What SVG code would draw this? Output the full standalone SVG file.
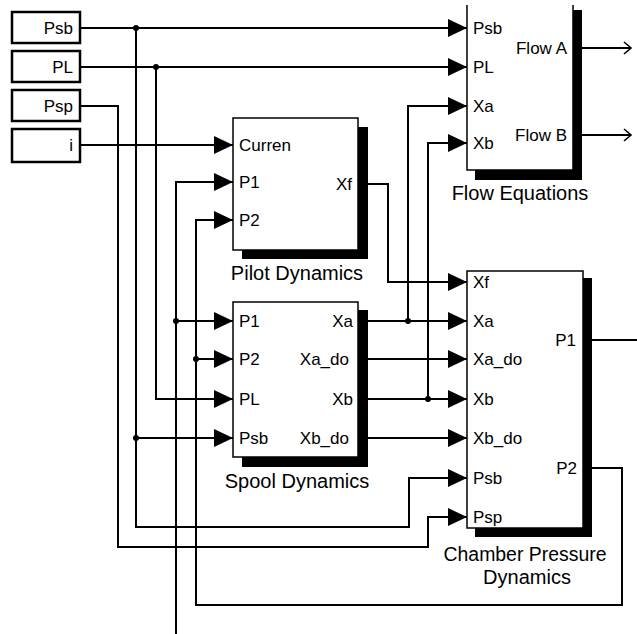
<svg xmlns="http://www.w3.org/2000/svg" width="637" height="634" viewBox="0 0 637 634">
<defs>
<style>
.box{fill:#fff;stroke:#000;stroke-width:2.5}
.blk{fill:#fff;stroke:#000;stroke-width:1.5}
.shadow{fill:#000}
.w{fill:none;stroke:#000;stroke-width:2}
.in{marker-end:url(#tri)}
.out{marker-end:url(#open)}
.dot{fill:#000}
text{font-family:"Liberation Sans",Arial,Helvetica,sans-serif;fill:#000}
.port{font-size:17px}
.lbl{font-size:20px;text-anchor:middle}
.r{text-anchor:end}
</style>
<marker id="tri" markerUnits="userSpaceOnUse" markerWidth="19" markerHeight="18" refX="19" refY="9" orient="auto">
<path d="M0,0 L19,9 L0,18 z" fill="#000"/>
</marker>
<marker id="open" markerUnits="userSpaceOnUse" markerWidth="10" markerHeight="14" refX="8" refY="7" orient="auto">
<path d="M1,1 L8,7 L1,13" fill="none" stroke="#000" stroke-width="1.6"/>
</marker>
</defs>
<rect width="637" height="634" fill="#fff"/>

<g id="connectors">
<path class="w in" d="M80,28 H467"/>
<path class="w in" d="M136,28 V527 H409 V478 H467"/>
<path class="w in" d="M136,438 H233"/>
<path class="w in" d="M80,67 H467"/>
<path class="w in" d="M156,67 V399 H233"/>
<path class="w in" d="M80,106 H118 V547 H428 V517 H467"/>
<path class="w in" d="M80,145 H233"/>
<path class="w" d="M592,340 H637"/>
<path class="w in" d="M176,634 V182 H233"/>
<path class="w in" d="M176,321 H233"/>
<path class="w in" d="M592,468 H622 V605 H196 V220 H233"/>
<path class="w in" d="M196,359 H233"/>
<path class="w in" d="M368,184 H388 V282 H467"/>
<path class="w in" d="M368,321 H467"/>
<path class="w in" d="M408,321 V106 H467"/>
<path class="w in" d="M368,359 H467"/>
<path class="w in" d="M368,399 H467"/>
<path class="w in" d="M428,399 V143 H467"/>
<path class="w in" d="M368,438 H467"/>
<path class="w out" d="M582,48 H631"/>
<path class="w out" d="M582,135 H631"/>
<circle class="dot" cx="136" cy="28" r="3"/>
<circle class="dot" cx="156" cy="67" r="3"/>
<circle class="dot" cx="136" cy="438" r="3"/>
<circle class="dot" cx="176" cy="321" r="3"/>
<circle class="dot" cx="196" cy="359" r="3"/>
<circle class="dot" cx="408" cy="321" r="3"/>
<circle class="dot" cx="428" cy="399" r="3"/>
</g>

<g id="in-Psb">
<rect class="box" x="12" y="12" width="68" height="31"/>
<text class="port r" x="73" y="34">Psb</text>
</g>
<g id="in-PL">
<rect class="box" x="12" y="51" width="68" height="31"/>
<text class="port r" x="73" y="73">PL</text>
</g>
<g id="in-Psp">
<rect class="box" x="12" y="90" width="68" height="31"/>
<text class="port r" x="73" y="112">Psp</text>
</g>
<g id="in-i">
<rect class="box" x="12" y="129" width="68" height="33"/>
<text class="port r" x="73" y="151">i</text>
</g>

<g id="flow-equations">
<rect class="shadow" x="475" y="10" width="107" height="170"/>
<rect x="467" y="5" width="106" height="165" fill="#fff"/>
<path class="blk" fill="none" d="M467,5 V170 H573 V5"/>
<text class="port" x="473" y="34">Psb</text>
<text class="port" x="473" y="73">PL</text>
<text class="port" x="473" y="112">Xa</text>
<text class="port" x="473" y="149">Xb</text>
<text class="port r" x="567" y="54">Flow A</text>
<text class="port r" x="567" y="141">Flow B</text>
<text class="lbl" x="520" y="200">Flow Equations</text>
</g>

<g id="pilot-dynamics">
<rect class="shadow" x="242" y="127" width="126" height="132"/>
<rect class="blk" x="233" y="118" width="125" height="132"/>
<text class="port" x="239" y="151">Curren</text>
<text class="port" x="239" y="188">P1</text>
<text class="port" x="239" y="226">P2</text>
<text class="port r" x="352" y="190">Xf</text>
<text class="lbl" x="297" y="280">Pilot Dynamics</text>
</g>

<g id="spool-dynamics">
<rect class="shadow" x="242" y="310" width="126" height="157"/>
<rect class="blk" x="233" y="302" width="125" height="155"/>
<text class="port" x="239" y="327">P1</text>
<text class="port" x="239" y="365">P2</text>
<text class="port" x="239" y="405">PL</text>
<text class="port" x="239" y="444">Psb</text>
<text class="port r" x="353" y="327">Xa</text>
<text class="port r" x="349" y="365">Xa_do</text>
<text class="port r" x="353" y="405">Xb</text>
<text class="port r" x="349" y="444">Xb_do</text>
<text class="lbl" x="297" y="488">Spool Dynamics</text>
</g>

<g id="chamber-pressure-dynamics">
<rect class="shadow" x="475" y="278" width="117" height="259"/>
<rect class="blk" x="467" y="271" width="116" height="257"/>
<text class="port" x="473" y="288">Xf</text>
<text class="port" x="473" y="327">Xa</text>
<text class="port" x="473" y="365">Xa_do</text>
<text class="port" x="473" y="405">Xb</text>
<text class="port" x="473" y="444">Xb_do</text>
<text class="port" x="473" y="484">Psb</text>
<text class="port" x="473" y="523">Psp</text>
<text class="port r" x="576" y="346">P1</text>
<text class="port r" x="577" y="474">P2</text>
<text class="lbl" x="525" y="561" textLength="163" lengthAdjust="spacingAndGlyphs">Chamber Pressure</text>
<text class="lbl" x="527" y="584">Dynamics</text>
</g>
</svg>
